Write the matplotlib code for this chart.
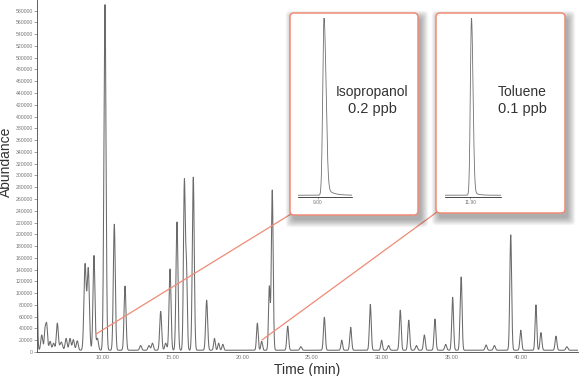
import numpy as np
import matplotlib
matplotlib.use('Agg')
import matplotlib.pyplot as plt
from matplotlib.patches import FancyBboxPatch, ConnectionPatch

plt.rcParams['font.family'] = ['Liberation Sans', 'DejaVu Sans']

# Main chromatogram: peak retention times (min), abundances and peak widths (min)
peak_rt = [5.22, 5.6, 5.84, 5.96, 6.2, 6.45, 6.72, 7.0, 7.35, 7.63, 7.87, 8.15,
           8.71, 8.94, 9.35, 9.6, 10.14, 10.81, 11.58, 12.7, 13.3, 13.55,
           14.14, 14.5, 14.81, 15.31, 15.84, 15.99, 16.48, 17.44, 18.0, 18.3,
           18.6, 21.08, 21.39, 21.94, 22.15, 23.26, 24.2, 25.89, 27.14, 27.78,
           29.19, 30.0, 30.5, 31.34, 31.95, 32.5, 33.07, 33.83, 34.6, 35.10,
           35.63, 35.72, 37.5, 38.1, 39.27, 39.99, 41.08, 41.44, 42.52, 43.3]
peak_abund = [175000, 26000, 34000, 41000, 15000, 12000, 46000, 14000, 20000,
              20000, 18000, 16000, 145000, 138000, 161000, 20000, 587000,
              214000, 109000, 8000, 8000, 12000, 66000, 12000, 138000, 218000,
              285000, 135000, 294000, 85000, 20000, 12000, 10000, 46000, 15000,
              108000, 272000, 41000, 6000, 56000, 17000, 39000, 78000, 17000,
              8000, 68000, 51000, 8000, 26000, 53000, 10000, 90000, 29000,
              118000, 9000, 8000, 196000, 34000, 77000, 30000, 24000, 6000]
peak_width = [0.06, 0.07, 0.06, 0.06, 0.07, 0.07, 0.07, 0.09, 0.07, 0.07, 0.07,
              0.07, 0.08, 0.08, 0.07, 0.07, 0.075, 0.07, 0.07, 0.07, 0.07, 0.07,
              0.07, 0.07, 0.07, 0.07, 0.065, 0.06, 0.07, 0.07, 0.06, 0.06, 0.06,
              0.06, 0.06, 0.06, 0.065, 0.065, 0.07, 0.065, 0.06, 0.065, 0.065,
              0.06, 0.07, 0.065, 0.065, 0.07, 0.065, 0.065, 0.07, 0.065, 0.05,
              0.06, 0.07, 0.07, 0.065, 0.065, 0.06, 0.065, 0.065, 0.07]
baseline = 3000

# Inset peaks: centre (min), relative height, left / right width, tail height / width
iso_peak = [9.13, 1.0, 0.026, 0.04, 0.06, 0.12]
tol_peak = [11.92, 1.0, 0.022, 0.03, 0.03, 0.08]

y_ticks = list(range(0, 600000, 20000))
x_ticks = [10, 15, 20, 25, 30, 35, 40]
x_labels = ['10.00', '15.00', '20.00', '25.00', '30.00', '35.00', '40.00']

W, H = 586, 376


def trace(t, rts, amps, widths):
    y = np.full_like(t, baseline, dtype=float)
    for rt, a, w in zip(rts, amps, widths):
        y += a * np.exp(-0.5 * ((t - rt) / w) ** 2)
    return y


def tailed(t, p):
    c, h, wl, wr, th, tw = p
    w = np.where(t < c, wl, wr)
    y = h * np.exp(-0.5 * ((t - c) / w) ** 2)
    tail = np.where(t > c, th * np.exp(-(t - c) / tw), 0)
    return y + tail * (1 - np.exp(-((t - c) / wr) ** 2))


fig = plt.figure(figsize=(W / 100, H / 100), dpi=100)
ax = fig.add_axes([37 / W, 1 - 352 / H, 541 / W, 352 / H], zorder=1)

t = np.arange(5.26, 44.1, 0.004)
ax.plot(t, trace(t, peak_rt, peak_abund, peak_width), color='#6a6a6a', lw=0.75)
ax.set_xlim(5.26, 44.1)
ax.set_ylim(0, 598000)
ax.set_yticks(y_ticks)
ax.set_yticklabels([str(v) for v in y_ticks])
ax.set_xticks(x_ticks)
ax.set_xticklabels(x_labels)
ax.tick_params(axis='y', labelsize=3.7, colors='#777777', length=2, width=0.5, pad=1)
ax.tick_params(axis='x', labelsize=4, colors='#777777', length=0, pad=2)
for s in ['top', 'right']:
    ax.spines[s].set_visible(False)
ax.spines['left'].set_color('#444444')
ax.spines['left'].set_linewidth(0.6)
ax.spines['bottom'].set_color('#444444')
ax.spines['bottom'].set_linewidth(0.6)
ax.set_ylabel('Abundance', fontsize=10, color='#333333')
ax.set_xlabel('Time (min)', fontsize=10, color='#333333', labelpad=2)
ax.yaxis.set_label_coords(-0.045, 0.54)

# overlay in pixel coordinates for the callout boxes
ov = fig.add_axes([0, 0, 1, 1], zorder=2)
ov.set_xlim(0, W)
ov.set_ylim(H, 0)
ov.axis('off')

red = '#ee8b76'
boxes = [(290, 13, 128, 202, 9.5, 30600), (436, 13, 129, 200, 21.41, 20400)]
for bx, by, bw, bh, lt, la in boxes:
    con = ConnectionPatch(xyA=(lt, la), coordsA=ax.transData,
                          xyB=(bx + 1, by + bh - 1), coordsB=ov.transData,
                          color=red, lw=0.9, zorder=1)
    ov.add_artist(con)
    for i in range(10):
        sh = FancyBboxPatch((bx + 3, by + 5), bw, bh,
                            boxstyle='round,pad=%.1f,rounding_size=4' % (i * 0.8),
                            fc='#000000', ec='none', alpha=0.035, zorder=2)
        ov.add_patch(sh)
    box = FancyBboxPatch((bx, by), bw, bh, boxstyle='round,pad=0,rounding_size=4',
                         fc='white', ec=red, lw=1.1, zorder=3)
    ov.add_patch(box)

insets = [
    (iso_peak, 298, 54, 8.6, 9.7, 9.0, '9.00', 'Isopropanol', '0.2 ppb', 372),
    (tol_peak, 445, 56, 11.4, 12.5, 11.9, '11.90', 'Toluene', '0.1 ppb', 522),
]
for p, left, width, x0, x1, tk, tl, name, conc, tx in insets:
    ia = fig.add_axes([left / W, 1 - 197 / H, width / W, 179 / H], zorder=3)
    ti = np.linspace(x0, x1, 600)
    ia.plot(ti, tailed(ti, p), color='#707070', lw=0.6)
    ia.set_xlim(x0, x1)
    ia.set_ylim(-0.01, 1.0)
    ia.patch.set_alpha(0)
    for s in ['top', 'right', 'left']:
        ia.spines[s].set_visible(False)
    ia.spines['bottom'].set_linewidth(0.5)
    ia.set_yticks([])
    ia.set_xticks([tk])
    ia.set_xticklabels([tl])
    ia.tick_params(axis='x', labelsize=3.5, colors='#777777', length=1.5,
                   width=0.4, pad=1)
    ov.text(tx, 92, name, fontsize=10, color='#333333', ha='center', va='center',
            zorder=5)
    ov.text(tx, 109, conc, fontsize=10.5, color='#333333', ha='center',
            va='center', zorder=5)

fig.savefig('out.png', dpi=100)
